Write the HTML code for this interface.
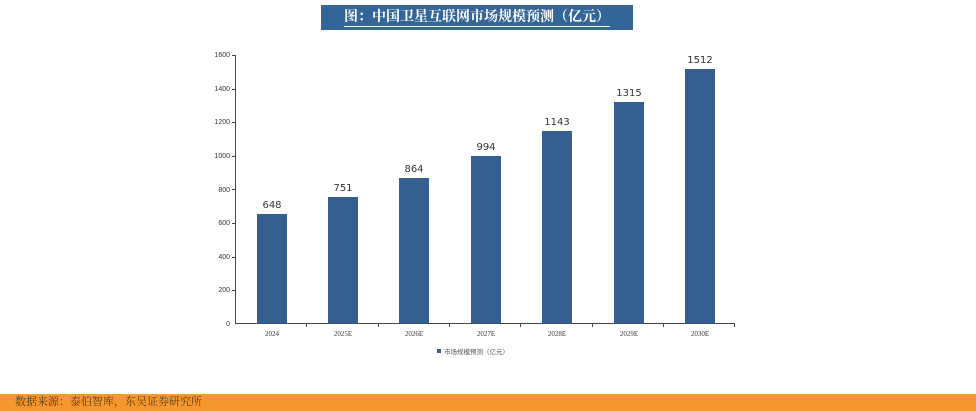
<!DOCTYPE html>
<html><head><meta charset="utf-8"><style>
body{margin:0;width:976px;height:411px;background:#fff;overflow:hidden;position:relative;font-family:"Liberation Sans","Noto Sans CJK SC",sans-serif}
.t{position:absolute;left:321px;top:5px;width:312px;height:25px;background:#336598;color:#fff;font-family:"Liberation Serif","Noto Serif CJK SC",serif;font-size:14px;font-weight:bold;text-align:center;line-height:25px}
.t span{border-bottom:1px solid #fff;padding-bottom:1px}
.f{position:absolute;left:0;top:394px;width:976px;height:17px;background:#f7982f;font-family:"Liberation Serif","Noto Serif CJK SC",serif;font-size:11px;color:#5a3a10;line-height:17px;padding-left:15px;box-sizing:border-box}
</style></head><body>
<div class="t"><span>图：中国卫星互联网市场规模预测（亿元）</span></div>
<svg width="976" height="411" style="position:absolute;left:0;top:0">
<g font-family="Liberation Sans, sans-serif" font-size="7" fill="#333" text-anchor="end">
<text x="230" y="57">1600</text><text x="230" y="91">1400</text><text x="230" y="124">1200</text><text x="230" y="158">1000</text><text x="230" y="192">800</text><text x="230" y="225">600</text><text x="230" y="259">400</text><text x="230" y="292">200</text><text x="230" y="326">0</text>
</g>
<g stroke="#444" stroke-width="1">
<line x1="235.5" y1="55" x2="235.5" y2="324"/>
<line x1="235" y1="323.5" x2="735" y2="323.5"/>
<line x1="232" y1="55.5" x2="235" y2="55.5"/><line x1="232" y1="89.5" x2="235" y2="89.5"/><line x1="232" y1="122.5" x2="235" y2="122.5"/><line x1="232" y1="156.5" x2="235" y2="156.5"/><line x1="232" y1="189.5" x2="235" y2="189.5"/><line x1="232" y1="223.5" x2="235" y2="223.5"/><line x1="232" y1="257.5" x2="235" y2="257.5"/><line x1="232" y1="290.5" x2="235" y2="290.5"/>
<line x1="306.5" y1="323" x2="306.5" y2="327"/><line x1="378.5" y1="323" x2="378.5" y2="327"/><line x1="449.5" y1="323" x2="449.5" y2="327"/><line x1="520.5" y1="323" x2="520.5" y2="327"/><line x1="592.5" y1="323" x2="592.5" y2="327"/><line x1="663.5" y1="323" x2="663.5" y2="327"/><line x1="734.5" y1="323" x2="734.5" y2="327"/>
</g>
<g fill="#355e91">
<rect x="257" y="214" width="30" height="109.5"/>
<rect x="328" y="197" width="30" height="126.5"/>
<rect x="399" y="178" width="30" height="145.5"/>
<rect x="471" y="156" width="30" height="167.5"/>
<rect x="542" y="131" width="30" height="192.5"/>
<rect x="614" y="102" width="30" height="221.5"/>
<rect x="685" y="69" width="30" height="254.5"/>
</g>
<g font-family="DejaVu Sans, sans-serif" font-size="10" fill="#333" text-anchor="middle">
<text x="272" y="208">648</text><text x="343" y="191">751</text><text x="414" y="172">864</text><text x="486" y="150">994</text><text x="557" y="125">1143</text><text x="629" y="96">1315</text><text x="700" y="63">1512</text>
</g>
<g font-family="Liberation Serif, serif" font-size="7" fill="#333" text-anchor="middle">
<text x="272" y="336">2024</text><text x="343" y="336">2025E</text><text x="414" y="336">2026E</text><text x="486" y="336">2027E</text><text x="557" y="336">2028E</text><text x="629" y="336">2029E</text><text x="700" y="336">2030E</text>
</g>
<rect x="437" y="349" width="4" height="4" fill="#355e91"/>
<text x="444" y="354" font-family="Noto Sans CJK SC, sans-serif" font-size="6.5" fill="#555">市场规模预测（亿元）</text>
</svg>
<div class="f">数据来源：泰伯智库，东吴证券研究所</div>
</body></html>
